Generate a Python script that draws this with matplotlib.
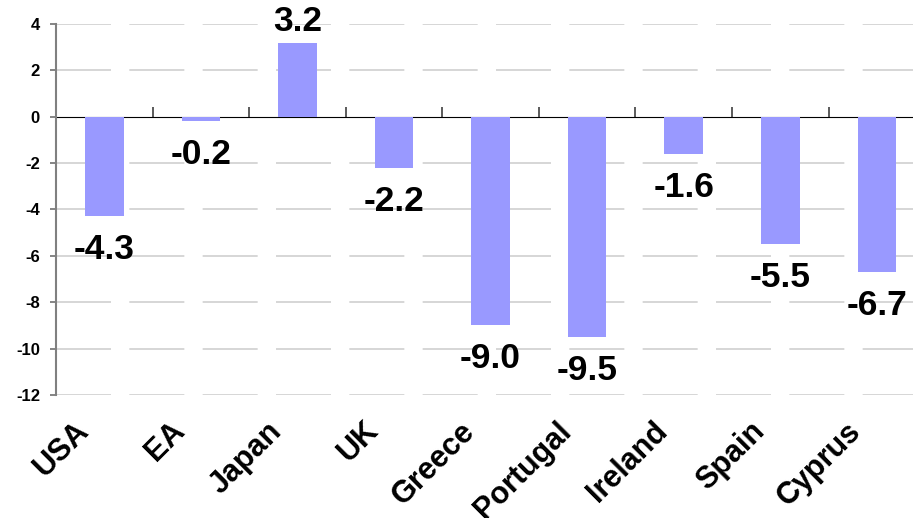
import matplotlib
matplotlib.use("Agg")
import matplotlib.pyplot as plt
from matplotlib.transforms import ScaledTranslation
import numpy as np

plt.rcParams['font.family'] = ['Liberation Sans', 'DejaVu Sans']

countries = ["USA", "EA", "Japan", "UK", "Greece", "Portugal", "Ireland", "Spain", "Cyprus"]
values = [-4.3, -0.2, 3.2, -2.2, -9.0, -9.5, -1.6, -5.5, -6.7]
y_ticks = [-12, -10, -8, -6, -4, -2, 0, 2, 4]

bar_color = "#9999FF"

fig = plt.figure(figsize=(9.13, 5.18), dpi=100)
ax = fig.add_axes([0.0613, 0.2375, 0.952, 0.7162])

x = np.arange(len(countries))
ax.bar(x, values, width=0.40, color=bar_color, zorder=3)

ax.set_xlim(-0.5, len(countries) - 0.5)
ax.set_ylim(min(y_ticks), max(y_ticks))

# dashed horizontal gridlines (zero is drawn by the category axis)
for yv in y_ticks:
    if yv != 0:
        ax.axhline(yv, color="#d0d0d0", lw=1.2, dashes=(33, 11), zorder=1)

# y axis
ax.set_yticks(y_ticks)
ax.set_yticklabels([str(v) for v in y_ticks], fontsize=12, fontweight="bold")
ax.tick_params(axis="y", length=4.5, width=1.2, color="#707070", pad=7)
ax.spines["left"].set_color("#808080")
ax.spines["left"].set_linewidth(1.5)
for s in ("top", "right", "bottom"):
    ax.spines[s].set_visible(False)

# category labels at the bottom, rotated
ax.set_xticks(x)
ax.set_xticklabels(countries, fontsize=22, fontweight="bold")
ax.tick_params(axis="x", length=0, pad=0)
shift = ScaledTranslation(-31 / 100, -21 / 100, fig.dpi_scale_trans)
for lbl in ax.get_xticklabels():
    lbl.set_rotation(45)
    lbl.set_rotation_mode("anchor")
    lbl.set_ha("right")
    lbl.set_va("top")
    lbl.set_transform(lbl.get_transform() + shift)

# category axis line at zero with tick marks between categories
zero_frac = (0 - min(y_ticks)) / (max(y_ticks) - min(y_ticks))
sec = ax.secondary_xaxis(zero_frac)
sec.set_xticks(np.arange(len(countries) + 1) - 0.5)
sec.set_xticklabels([])
sec.tick_params(axis="x", direction="out", length=7.5, width=1.2, color="#404040")
sec.spines["bottom"].set_color("#404040")
sec.spines["bottom"].set_linewidth(1.2)

# value labels
for xi, v in zip(x, values):
    off = 15 if v > 0 else -24
    ax.annotate(f"{v:.1f}", (xi, v), xytext=(0, off), textcoords="offset points",
                ha="center", va="center", fontsize=25.5, fontweight="bold", zorder=4)

fig.savefig("out.png", dpi=100)
